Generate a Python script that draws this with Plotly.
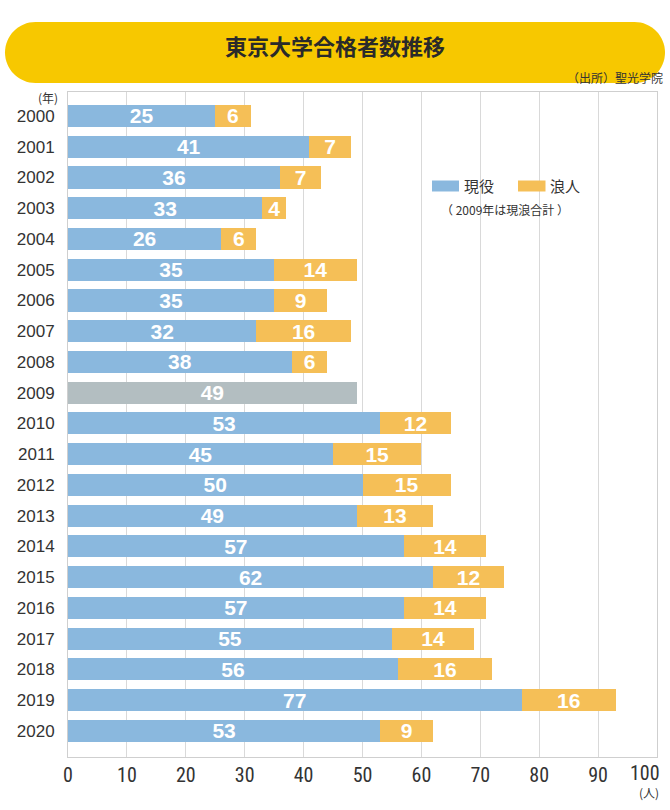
import plotly.graph_objects as go

years = [str(y) for y in range(2000, 2021)]
genneki = [25, 41, 36, 33, 26, 35, 35, 32, 38, 49, 53, 45, 50, 49, 57, 62, 57, 55, 56, 77, 53]
ronin = [6, 7, 7, 4, 6, 14, 9, 16, 6, 0, 12, 15, 15, 13, 14, 12, 14, 14, 16, 16, 9]
x_ticks = list(range(0, 101, 10))

BLUE = "#8AB8DE"
ORANGE = "#F5BF57"
GRAY = "#B3BEC1"
YELLOW = "#F7C800"
TXT = "#333333"
NUM_FONT = "Liberation Sans Narrow, Roboto Condensed, Roboto, Arial"
BAR_FONT = "Liberation Sans, Arial"
JP_FONT = "Noto Sans CJK JP, Noto Sans"

# plot area pixel geometry
L, R, T, B = 68, 657, 92, 757
W, H = R - L, B - T

def px(x):
    return (x - L) / W

def py(y):
    return (B - y) / H

blue_colors = [GRAY if y == "2009" else BLUE for y in years]
ronin_text = ["" if v == 0 else str(v) for v in ronin]

fig = go.Figure()
fig.add_trace(go.Bar(
    y=years, x=genneki, orientation="h", name="現役",
    marker=dict(color=blue_colors, line=dict(width=0)),
    text=[str(v) for v in genneki], textposition="inside", textangle=0,
    insidetextanchor="middle",
    textfont=dict(color="white", size=21, family=BAR_FONT, weight="bold"),
    width=0.72, hoverinfo="x+y",
))
fig.add_trace(go.Bar(
    y=years, x=ronin, orientation="h", name="浪人",
    marker=dict(color=ORANGE, line=dict(width=0)),
    text=ronin_text, textposition="inside", textangle=0,
    insidetextanchor="middle",
    textfont=dict(color="white", size=21, family=BAR_FONT, weight="bold"),
    width=0.72, hoverinfo="x+y",
))

# rounded title banner
x0, x1 = px(5), px(665)
y0, y1 = py(83), py(22)
rx = 30.5 / W
ry = 30.5 / H
k = 0.5523
path = (
    f"M {x0+rx},{y1} L {x1-rx},{y1} "
    f"C {x1-rx+k*rx},{y1} {x1},{y1-ry+k*ry} {x1},{y1-ry} "
    f"C {x1},{y0+ry-k*ry} {x1-rx+k*rx},{y0} {x1-rx},{y0} "
    f"L {x0+rx},{y0} "
    f"C {x0+rx-k*rx},{y0} {x0},{y0+ry-k*ry} {x0},{y0+ry} "
    f"C {x0},{y1-ry+k*ry} {x0+rx-k*rx},{y1} {x0+rx},{y1} Z"
)
shapes = [
    dict(type="path", xref="paper", yref="paper", path=path,
         fillcolor=YELLOW, line=dict(width=0), layer="below"),
    dict(type="rect", xref="paper", yref="paper",
         x0=px(432), x1=px(459), y0=py(191.5), y1=py(180.5),
         fillcolor=BLUE, line=dict(width=0)),
    dict(type="rect", xref="paper", yref="paper",
         x0=px(518), x1=px(545.5), y0=py(191.5), y1=py(180.5),
         fillcolor=ORANGE, line=dict(width=0)),
]

annotations = [
    dict(text="<b>東京大学合格者数推移</b>", x=px(335), y=py(45), xref="paper", yref="paper",
         showarrow=False, font=dict(size=22, color="#2a2a2a", family=JP_FONT),
         xanchor="center", yanchor="middle"),
    dict(text="（出所）聖光学院", x=px(665), y=py(78), xref="paper", yref="paper",
         showarrow=False, font=dict(size=12, color=TXT, family=JP_FONT),
         xanchor="right", yanchor="middle"),
    dict(text="(年)", x=px(60), y=py(97), xref="paper", yref="paper",
         showarrow=False, font=dict(size=12, color=TXT, family=JP_FONT),
         xanchor="right", yanchor="middle"),
    dict(text="(人)", x=px(649), y=py(792), xref="paper", yref="paper",
         showarrow=False, font=dict(size=12, color=TXT, family=JP_FONT),
         xanchor="center", yanchor="middle"),
    dict(text=str(x_ticks[-1]), x=px(645), y=py(773), xref="paper", yref="paper",
         showarrow=False, font=dict(size=20, color=TXT, family=NUM_FONT),
         xanchor="center", yanchor="middle"),
    dict(text="現役", x=px(462), y=py(186), xref="paper", yref="paper",
         showarrow=False, font=dict(size=15, color=TXT, family=JP_FONT),
         xanchor="left", yanchor="middle"),
    dict(text="浪人", x=px(548), y=py(186), xref="paper", yref="paper",
         showarrow=False, font=dict(size=15, color=TXT, family=JP_FONT),
         xanchor="left", yanchor="middle"),
    dict(text="（ 2009年は現浪合計 ）", x=px(505), y=py(209), xref="paper", yref="paper",
         showarrow=False, font=dict(size=12, color=TXT, family=JP_FONT),
         xanchor="center", yanchor="middle"),
]

fig.update_layout(
    barmode="stack",
    width=670, height=810,
    margin=dict(l=L, r=670 - R, t=T, b=810 - B, pad=0),
    paper_bgcolor="white", plot_bgcolor="white",
    showlegend=False,
    shapes=shapes, annotations=annotations,
    uniformtext=dict(minsize=21, mode="show"),
    xaxis=dict(
        range=[0, 100], tickvals=x_ticks[:-1], ticktext=[str(v) for v in x_ticks[:-1]],
        showgrid=True, gridcolor="#D9D9D9", gridwidth=1,
        showline=True, linecolor="#CFCFCF", linewidth=1, mirror=True,
        zeroline=False, ticks="", ticklabelstandoff=0,
        tickfont=dict(size=20, color=TXT, family=NUM_FONT),
    ),
    yaxis=dict(
        type="category", categoryorder="array", categoryarray=years,
        range=[20.85, -0.78],
        showgrid=False, showline=True, linecolor="#CFCFCF", linewidth=1, mirror=True,
        ticks="", ticklabelstandoff=9,
        tickfont=dict(size=17, color=TXT, family="Liberation Sans, Arial"),
    ),
    bargap=0.28,
)

fig.write_html("out.html")
